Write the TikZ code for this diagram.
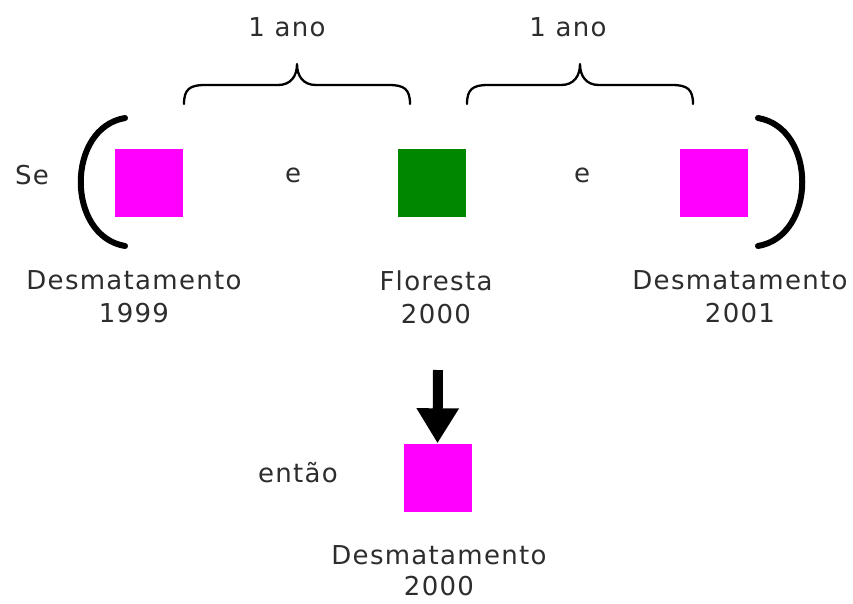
\documentclass[tikz,border=0pt]{standalone}
\usepackage{fontspec}
\newfontfamily\vfont[LetterSpace=5]{DejaVu Sans}
\usetikzlibrary{arrows.meta}
\definecolor{mag}{RGB}{255,0,255}
\definecolor{grn}{RGB}{0,135,0}
\definecolor{txt}{RGB}{45,45,45}
\begin{document}
\begin{tikzpicture}[x=1pt,y=-1pt,
  sq/.style={minimum size=68pt,inner sep=0pt,draw=none},
  lbl/.style={font=\vfont\fontsize{26}{33}\selectfont,text=txt,inner sep=0pt,align=center},
  brace/.style={line width=2.3pt,line cap=round,line join=round},
  paren/.style={line width=6pt,line cap=round},
  bigarrow/.style={line width=10pt,-{Triangle[width=40pt,length=35pt]}}]
\useasboundingbox[fill=white] (0,0) rectangle (853,603);
% squares
\node[sq,fill=mag] (s1) at (149,182.5) {};
\node[sq,fill=grn] (s2) at (431.5,182.5) {};
\node[sq,fill=mag] (s3) at (713.5,182.5) {};
\node[sq,fill=mag] (s4) at (437.5,477.5) {};
% parentheses
\draw[paren] (125,118) .. controls (66,128) and (66,236) .. (125,246);
\draw[paren] (758,118) .. controls (817,128) and (817,236) .. (758,246);
% braces
\draw[brace] (184,104) .. controls (184,89) and (190,85) .. (205,85) -- (278,85)
  .. controls (291,85) and (297,76) .. (297,64)
  .. controls (297,76) and (303,85) .. (316,85) -- (389,85)
  .. controls (404,85) and (410,89) .. (410,104);
\draw[brace] (467,104) .. controls (467,89) and (473,85) .. (488,85) -- (561,85)
  .. controls (574,85) and (580,76) .. (580,64)
  .. controls (580,76) and (586,85) .. (599,85) -- (672,85)
  .. controls (687,85) and (693,89) .. (693,104);
% labels
\node[lbl] (y1) at (287,27) {1 ano};
\node[lbl] (y2) at (568,27) {1 ano};
\node[lbl] (se) at (32,175) {Se};
\node[lbl] (e1) at (293,175) {e};
\node[lbl] (e2) at (582,175) {e};
\node[lbl] (l1) at (134,297) {Desmatamento\\1999};
\node[lbl] (l2) at (436,297) {Floresta\\2000};
\node[lbl] (l3) at (740,297) {Desmatamento\\2001};
\node[lbl] (en) at (298,473) {então};
\node[lbl,font=\vfont\fontsize{26}{31}\selectfont] (l4) at (439,571) {Desmatamento\\2000};
% arrow
\coordinate (atop) at (438,370);
\draw[bigarrow] (atop) -- (s4.north);
\end{tikzpicture}
\end{document}
